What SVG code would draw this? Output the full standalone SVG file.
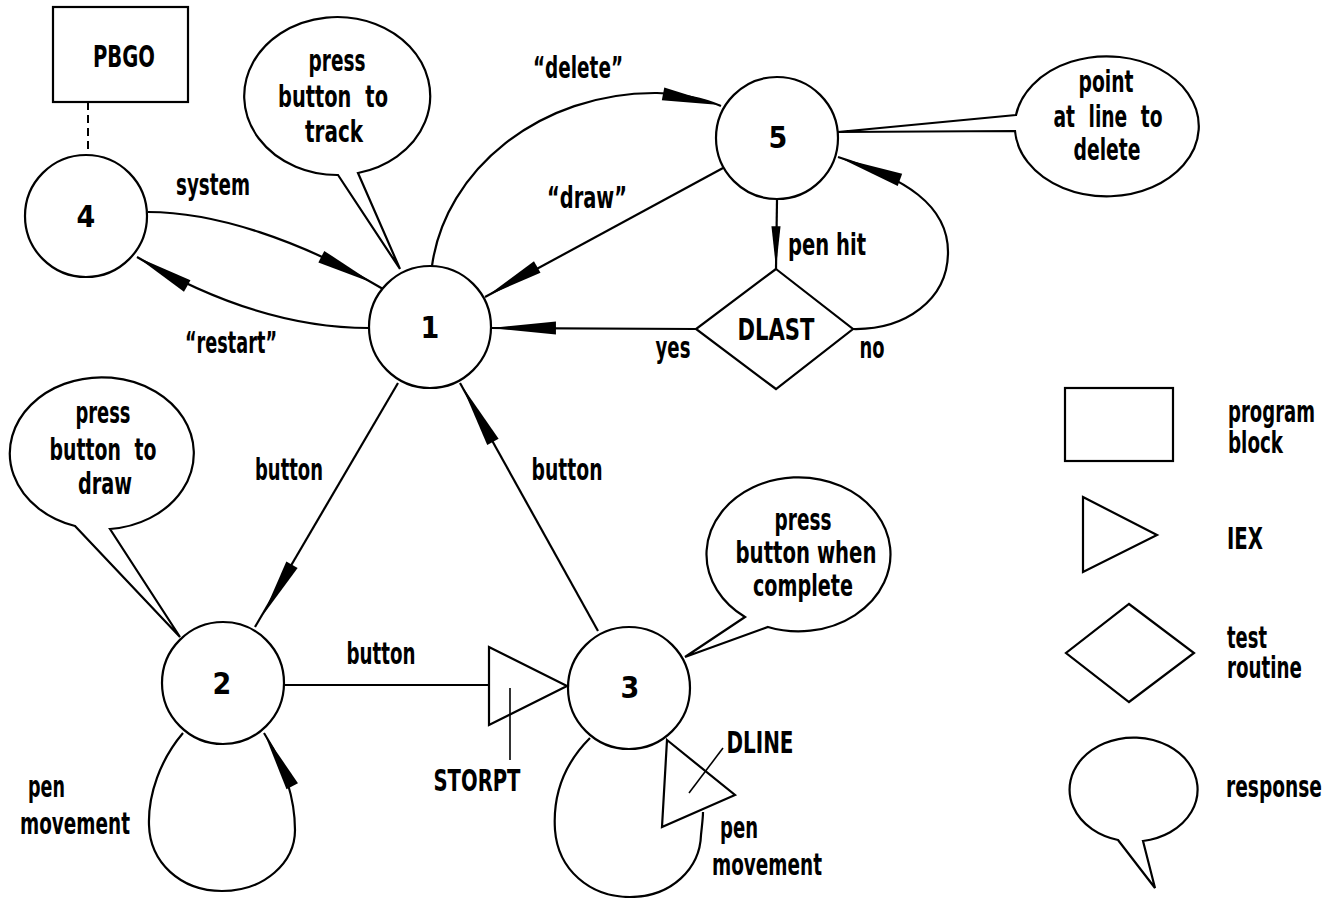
<svg xmlns="http://www.w3.org/2000/svg" xmlns:xlink="http://www.w3.org/1999/xlink" width="1340" height="898" viewBox="0 0 1340 898">
  <style>
    .bg { fill: #ffffff; }
    .shape { fill: #ffffff; stroke: #000000; stroke-width: 2.2; stroke-linejoin: miter; }
    .line { fill: none; stroke: #000000; stroke-width: 2.2; }
    .thin { fill: none; stroke: #000000; stroke-width: 1.6; }
    .dash { fill: none; stroke: #000000; stroke-width: 2; stroke-dasharray: 8 5; }
    .head { fill: #000000; stroke: none; }
    .t { font-family: "DejaVu Sans Condensed", "DejaVu Sans", sans-serif; font-weight: bold; font-size: 30px; fill: #000000; }
    .c { text-anchor: middle; }
    .s { text-anchor: start; }
    .e { text-anchor: end; }
    .w { word-spacing: 10px; }
  </style>
  <defs>
    <!-- slender filled arrowhead, tip at the origin pointing along +x -->
    <path id="ah" d="M0,0 L-58,-6.5 L-58,6.5 Z"/>
  </defs>

  <rect class="bg" x="0" y="0" width="1340" height="898"/>

  <!-- connectors -->
  <g id="connectors">
    <!-- PBGO to state 4 -->
    <path class="dash" d="M88,102 L88,154"/>
    <!-- 4 -> 1 system -->
    <path class="line" d="M148,212 C215,212 300,240 383,289"/>
    <use xlink:href="#ah" class="head" transform="translate(373,283) rotate(27)"/>
    <!-- 1 -> 4 restart -->
    <path class="line" d="M369,328 C290,328 210,300 137,257"/>
    <use xlink:href="#ah" class="head" transform="translate(137,257) rotate(-150)"/>
    <!-- 1 -> 5 delete -->
    <path class="line" d="M432,266 C445,170 540,92 657,93 C685,94 705,99 721,106"/>
    <use xlink:href="#ah" class="head" transform="translate(720,105) rotate(11)"/>
    <!-- 5 -> 1 draw -->
    <path class="line" d="M723,168 L485,297"/>
    <use xlink:href="#ah" class="head" transform="translate(487,296) rotate(150)"/>
    <!-- 5 -> DLAST pen hit -->
    <path class="line" d="M777,200 L776,269"/>
    <use xlink:href="#ah" class="head" transform="translate(776,268) rotate(90) scale(0.72,0.7)"/>
    <!-- DLAST yes -> 1 -->
    <path class="line" d="M696,329 L491,328"/>
    <use xlink:href="#ah" class="head" transform="translate(491,328) rotate(180) scale(1.12,1)"/>
    <!-- DLAST no -> 5 -->
    <path class="line" d="M853,329 C905,330 948,300 948,252 C948,205 905,178 838,157"/>
    <use xlink:href="#ah" class="head" transform="translate(840,158) rotate(-160) scale(1.1,1)"/>
    <!-- 1 -> 2 button -->
    <path class="line" d="M398,383 L255,627"/>
    <use xlink:href="#ah" class="head" transform="translate(263,615) rotate(120)"/>
    <!-- 3 -> 1 button -->
    <path class="line" d="M598,631 L460,383"/>
    <use xlink:href="#ah" class="head" transform="translate(462,386) rotate(-119) scale(1.1,1)"/>
    <!-- 2 -> STORPT -> 3 button -->
    <path class="line" d="M285,685 L489,685"/>
    <!-- 2 self loop, pen movement -->
    <path class="line" d="M183,733 C160,760 148,795 149,825 C150,862 180,891 222,891 C265,891 295,862 295,830 C295,800 285,765 264,733"/>
    <use xlink:href="#ah" class="head" transform="translate(265,735) rotate(-118)"/>
    <!-- 3 self loop, pen movement through DLINE -->
    <path class="line" d="M590,738 C560,768 553,800 555,830 C558,870 590,897 630,897 C672,897 700,868 701,835 C702,825 703,818 703,812"/>
  </g>

  <!-- program block PBGO -->
  <g id="pbgo">
    <rect class="shape" x="53" y="7" width="135" height="95"/>
    <text class="t c" x="124" y="67" textLength="62" lengthAdjust="spacingAndGlyphs">PBGO</text>
  </g>

  <!-- states -->
  <g id="state-4">
    <circle class="shape" cx="86" cy="216" r="61"/>
    <text class="t c" x="86" y="227">4</text>
  </g>
  <g id="state-1">
    <circle class="shape" cx="430" cy="327" r="61"/>
    <text class="t c" x="430" y="338">1</text>
  </g>
  <g id="state-5">
    <circle class="shape" cx="777" cy="138" r="61"/>
    <text class="t c" x="778" y="148">5</text>
  </g>
  <g id="state-2">
    <circle class="shape" cx="223" cy="683" r="61"/>
    <text class="t c" x="222" y="694">2</text>
  </g>
  <g id="state-3">
    <circle class="shape" cx="629" cy="688" r="61"/>
    <text class="t c" x="630" y="698">3</text>
  </g>

  <!-- test routine DLAST -->
  <g id="dlast">
    <polygon class="shape" points="776,269 853,329 776,389 696,329"/>
    <text class="t c" x="776" y="340" textLength="77" lengthAdjust="spacingAndGlyphs">DLAST</text>
  </g>

  <!-- IEX routines -->
  <g id="storpt">
    <polygon class="shape" points="489,647 489,725 567,686"/>
    <path class="thin" d="M510,688 L510,760"/>
    <text class="t c" x="477" y="791" textLength="87" lengthAdjust="spacingAndGlyphs">STORPT</text>
  </g>
  <g id="dline">
    <polygon class="shape" points="667,740 735,795 662,827"/>
    <path class="thin" d="M689,793 L723,748"/>
    <text class="t c" x="760" y="753" textLength="67" lengthAdjust="spacingAndGlyphs">DLINE</text>
  </g>

  <!-- responses -->
  <g id="resp-track">
    <path class="shape" d="M338,175 L400,269 L358,173 A93,79 0 1 0 338,175 Z"/>
    <text class="t c" x="337" y="71" textLength="57" lengthAdjust="spacingAndGlyphs">press</text>
    <text class="t c w" x="333" y="107" textLength="110" lengthAdjust="spacingAndGlyphs">button to</text>
    <text class="t c" x="334" y="142" textLength="58" lengthAdjust="spacingAndGlyphs">track</text>
  </g>
  <g id="resp-delete">
    <path class="shape" d="M1016,115 L838,132 L1015,131 A92,70 0 1 0 1016,115 Z"/>
    <text class="t c" x="1106" y="92" textLength="55" lengthAdjust="spacingAndGlyphs">point</text>
    <text class="t c w" x="1108" y="127" textLength="109" lengthAdjust="spacingAndGlyphs">at line to</text>
    <text class="t c" x="1107" y="160" textLength="67" lengthAdjust="spacingAndGlyphs">delete</text>
  </g>
  <g id="resp-draw">
    <path class="shape" d="M75,526 L180,637 L110,529 A92,76 0 1 0 75,526 Z"/>
    <text class="t c" x="103" y="423" textLength="55" lengthAdjust="spacingAndGlyphs">press</text>
    <text class="t c w" x="103" y="460" textLength="107" lengthAdjust="spacingAndGlyphs">button to</text>
    <text class="t c" x="105" y="494" textLength="54" lengthAdjust="spacingAndGlyphs">draw</text>
  </g>
  <g id="resp-complete">
    <path class="shape" d="M745,617 L685,657 L768,627 A92,77 0 1 0 745,617 Z"/>
    <text class="t c" x="803" y="530" textLength="57" lengthAdjust="spacingAndGlyphs">press</text>
    <text class="t c" x="806" y="563" textLength="141" lengthAdjust="spacingAndGlyphs">button when</text>
    <text class="t c" x="803" y="596" textLength="100" lengthAdjust="spacingAndGlyphs">complete</text>
  </g>

  <!-- connector labels -->
  <g id="labels">
    <text class="t c" x="213" y="195" textLength="74" lengthAdjust="spacingAndGlyphs">system</text>
    <text class="t c" x="231" y="353" textLength="92" lengthAdjust="spacingAndGlyphs">“restart”</text>
    <text class="t c" x="578" y="78" textLength="90" lengthAdjust="spacingAndGlyphs">“delete”</text>
    <text class="t c" x="587" y="208" textLength="80" lengthAdjust="spacingAndGlyphs">“draw”</text>
    <text class="t s" x="788" y="255" textLength="78" lengthAdjust="spacingAndGlyphs">pen hit</text>
    <text class="t c" x="673" y="358" textLength="35" lengthAdjust="spacingAndGlyphs">yes</text>
    <text class="t c" x="872" y="358" textLength="25" lengthAdjust="spacingAndGlyphs">no</text>
    <text class="t c" x="289" y="480" textLength="68" lengthAdjust="spacingAndGlyphs">button</text>
    <text class="t c" x="567" y="480" textLength="71" lengthAdjust="spacingAndGlyphs">button</text>
    <text class="t c" x="381" y="664" textLength="69" lengthAdjust="spacingAndGlyphs">button</text>
    <text class="t s" x="28" y="797" textLength="37" lengthAdjust="spacingAndGlyphs">pen</text>
    <text class="t s" x="20" y="834" textLength="110" lengthAdjust="spacingAndGlyphs">movement</text>
    <text class="t s" x="720" y="838" textLength="38" lengthAdjust="spacingAndGlyphs">pen</text>
    <text class="t s" x="712" y="875" textLength="110" lengthAdjust="spacingAndGlyphs">movement</text>
  </g>

  <!-- key -->
  <g id="key-program-block">
    <rect class="shape" x="1065" y="388" width="108" height="73"/>
    <text class="t e" x="1315" y="422" textLength="87" lengthAdjust="spacingAndGlyphs">program</text>
    <text class="t e" x="1283" y="453" textLength="55" lengthAdjust="spacingAndGlyphs">block</text>
  </g>
  <g id="key-iex">
    <polygon class="shape" points="1083,497 1157,535 1083,572"/>
    <text class="t s" x="1227" y="549" textLength="36" lengthAdjust="spacingAndGlyphs">IEX</text>
  </g>
  <g id="key-test-routine">
    <polygon class="shape" points="1129,604 1194,653 1129,702 1066,653"/>
    <text class="t s" x="1227" y="648" textLength="40" lengthAdjust="spacingAndGlyphs">test</text>
    <text class="t s" x="1227" y="678" textLength="75" lengthAdjust="spacingAndGlyphs">routine</text>
  </g>
  <g id="key-response">
    <path class="shape" d="M1118,840 L1155,888 L1143,841 A64,52 0 1 0 1118,840 Z"/>
    <text class="t e" x="1322" y="797" textLength="96" lengthAdjust="spacingAndGlyphs">response</text>
  </g>
</svg>
